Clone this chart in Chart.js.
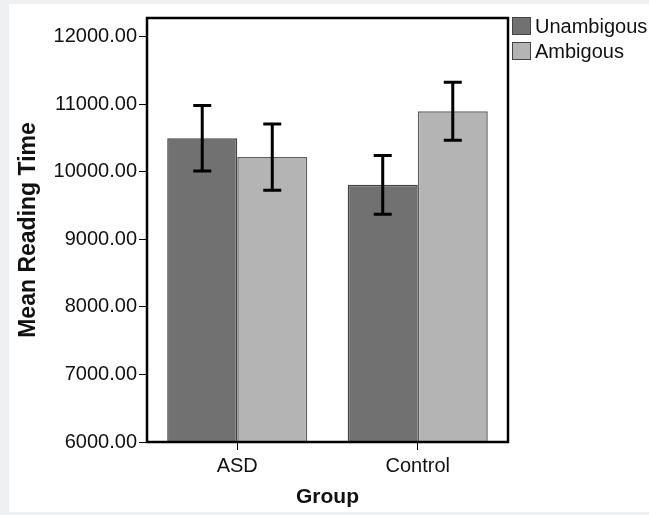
<!DOCTYPE html>
<html>
<head>
<meta charset="utf-8">
<script src="https://cdn.jsdelivr.net/npm/chart.js@4"></script>
<style>
  body { margin: 0; background: #eff0f2; }
  #wrap { position: absolute; left: 9px; top: 4px; width: 640px; height: 508px; background: #fff; }
</style>
</head>
<body>
<div id="wrap"><canvas id="chart"></canvas></div>
<script>
const groups = ['ASD', 'Control'];
const seriesNames = ['Unambigous', 'Ambigous'];
const unambigMeans = [10500, 9810];
const unambigErrors = [485, 435];
const ambigMeans = [10220, 10900];
const ambigErrors = [490, 430];
const yTicks = [6000, 7000, 8000, 9000, 10000, 11000, 12000];

const FONT = 'Liberation Sans, Arial, sans-serif';

// error bars + plot frame + legend
const extras = {
  id: 'extras',
  afterDatasetsDraw(chart) {
    const ctx = chart.ctx, y = chart.scales.y;
    ctx.save();
    ctx.strokeStyle = '#000';
    ctx.lineWidth = 3;
    chart.data.datasets.forEach((ds, i) => {
      chart.getDatasetMeta(i).data.forEach((bar, j) => {
        const hi = y.getPixelForValue(ds.data[j] + ds.err[j]);
        const lo = y.getPixelForValue(ds.data[j] - ds.err[j]);
        const x = bar.x;
        ctx.beginPath();
        ctx.moveTo(x, hi); ctx.lineTo(x, lo);
        ctx.moveTo(x - 9, hi); ctx.lineTo(x + 9, hi);
        ctx.moveTo(x - 9, lo); ctx.lineTo(x + 9, lo);
        ctx.stroke();
      });
    });
    ctx.restore();
  },
  afterDraw(chart) {
    const ctx = chart.ctx, a = chart.chartArea;
    ctx.save();
    ctx.strokeStyle = '#000';
    ctx.lineWidth = 2.5;
    ctx.strokeRect(a.left, a.top, a.right - a.left, a.bottom - a.top);
    // legend
    ctx.font = '20px ' + FONT;
    ctx.textBaseline = 'middle';
    ctx.textAlign = 'left';
    chart.data.datasets.forEach((ds, i) => {
      const top = 13 + i * 25;
      ctx.fillStyle = ds.backgroundColor;
      ctx.fillRect(503, top, 19, 18);
      ctx.lineWidth = 1;
      ctx.strokeStyle = '#444';
      ctx.strokeRect(503.5, top + 0.5, 18, 17);
      ctx.fillStyle = '#111';
      ctx.fillText(ds.label, 526, top + 10);
    });
    ctx.restore();
  }
};

new Chart(document.getElementById('chart'), {
  type: 'bar',
  data: {
    labels: groups,
    datasets: [
      { label: seriesNames[0], data: unambigMeans, err: unambigErrors,
        backgroundColor: '#717171', borderColor: '#444', borderWidth: 1.5 },
      { label: seriesNames[1], data: ambigMeans, err: ambigErrors,
        backgroundColor: '#b4b4b4', borderColor: '#606060', borderWidth: 1.5 }
    ]
  },
  options: {
    responsive: true,
    maintainAspectRatio: false,
    animation: false,
    events: [],
    layout: { padding: { top: 9, right: 141, bottom: 0, left: 0 } },
    datasets: { bar: { categoryPercentage: 0.776, barPercentage: 1 } },
    plugins: { legend: { display: false }, tooltip: { enabled: false } },
    scales: {
      x: {
        afterFit(s) { s.height = 70; },
        border: { display: false },
        grid: { offset: false, drawOnChartArea: false, drawTicks: true, tickLength: 8, color: '#000' },
        ticks: { color: '#111', font: { family: FONT, size: 20 }, padding: 4 },
        title: { display: true, text: 'Group', color: '#111',
                 font: { family: FONT, size: 21, weight: 'bold' }, padding: { top: 0, bottom: 2 } }
      },
      y: {
        min: 6000,
        max: 12280,
        afterFit(s) { s.width = 138; },
        afterBuildTicks(s) { s.ticks = yTicks.map(v => ({ value: v })); },
        border: { display: false },
        grid: { drawOnChartArea: false, drawTicks: true, tickLength: 8, color: '#000' },
        ticks: { color: '#111', font: { family: FONT, size: 20 }, padding: 2,
                 callback: v => Number(v).toFixed(2) },
        title: { display: true, text: 'Mean Reading Time', color: '#111',
                 font: { family: FONT, size: 23, weight: 'bold' }, padding: { top: 6, bottom: 0 } }
      }
    }
  },
  plugins: [extras]
});
</script>
</body>
</html>
